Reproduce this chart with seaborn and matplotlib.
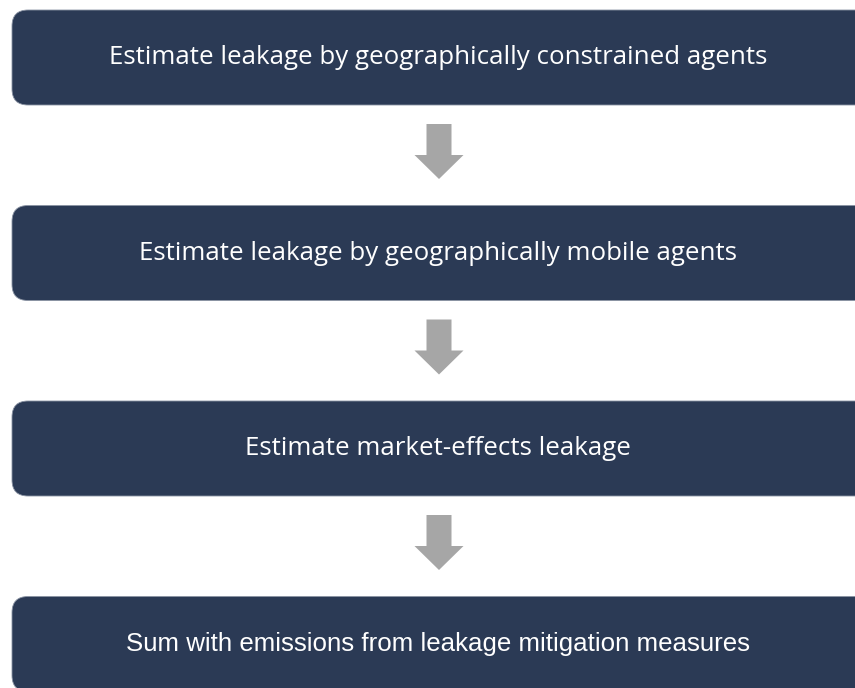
import numpy as np
import matplotlib.pyplot as plt
import seaborn as sns
from matplotlib.patches import FancyBboxPatch, Polygon

# flowchart steps, top to bottom
steps = [
    "Estimate leakage by geographically constrained agents",
    "Estimate leakage by geographically mobile agents",
    "Estimate market-effects leakage",
    "Sum with emissions from leakage mitigation measures",
]
# the last box in the original uses a different (Arial-like) font
step_fonts = ["Open Sans", "Open Sans", "Open Sans", "Liberation Sans"]
box_color = "#2b3a55"
arrow_color = "#a6a6a6"

sns.set_theme(style="white")
plt.rcParams['font.family'] = ['Open Sans', 'DejaVu Sans']

fig = plt.figure(figsize=(8.55, 6.88), dpi=100)
ax = fig.add_axes([0, 0, 1, 1])
ax.set_xlim(0, 855)
ax.set_ylim(688, 0)
ax.axis("off")

box_h = 95
gap = 195.5
for i, label in enumerate(steps):
    top = 10 + i * gap
    box = FancyBboxPatch((12, top), 900, box_h,
                         boxstyle="round,pad=0,rounding_size=16",
                         facecolor=box_color, edgecolor="#8a93a3", lw=0.6)
    ax.add_patch(box)
    ax.text(438, top + box_h / 2, label, color="white", fontsize=18.6,
            family=[step_fonts[i], 'DejaVu Sans'], ha="center", va="center")

    # down arrow to the next step
    if i < len(steps) - 1:
        cx = 439
        y0 = top + box_h + 19
        shaft = [(cx - 12.5, y0), (cx + 12.5, y0), (cx + 12.5, y0 + 31),
                 (cx + 24.5, y0 + 31), (cx, y0 + 55), (cx - 24.5, y0 + 31),
                 (cx - 12.5, y0 + 31)]
        ax.add_patch(Polygon(shaft, closed=True, facecolor=arrow_color,
                             edgecolor="none"))

fig.savefig("out.png", dpi=100)
